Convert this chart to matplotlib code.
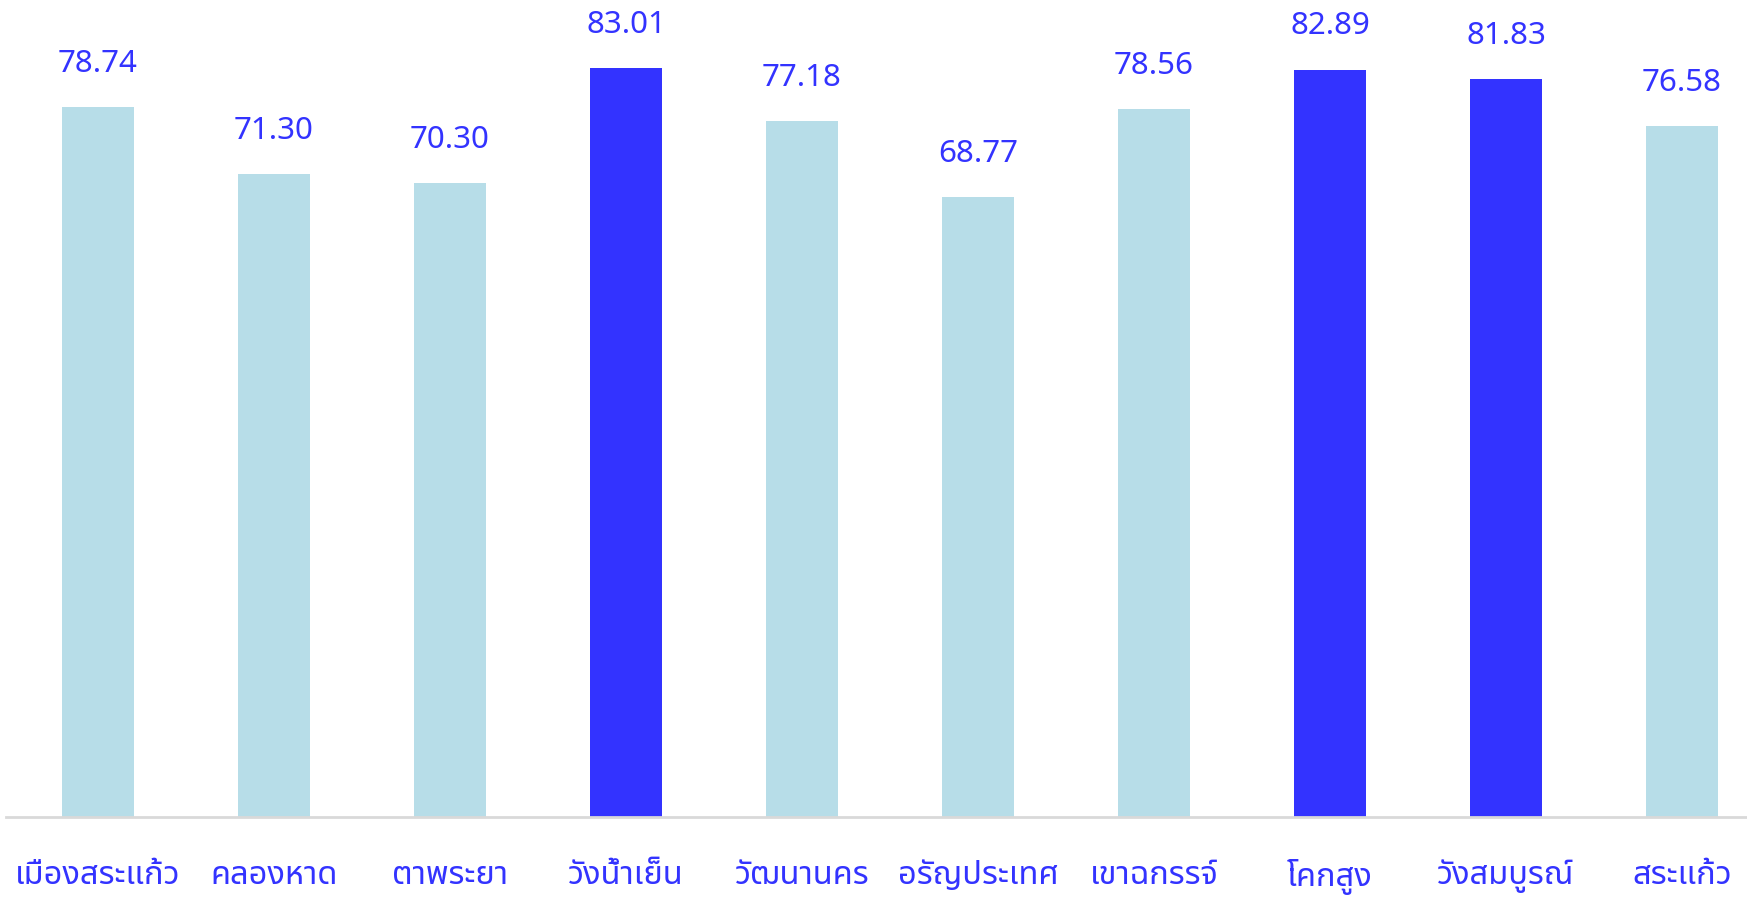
import matplotlib
matplotlib.use("Agg")
import matplotlib.pyplot as plt
import numpy as np

# ข้อมูลรายอำเภอ
districts = ["เมืองสระแก้ว", "คลองหาด", "ตาพระยา", "วังน้ำเย็น", "วัฒนานคร",
             "อรัญประเทศ", "เขาฉกรรจ์", "โคกสูง", "วังสมบูรณ์", "สระแก้ว"]
scores = [78.74, 71.30, 70.30, 83.01, 77.18, 68.77, 78.56, 82.89, 81.83, 76.58]
highlight = [False, False, False, True, False, False, False, True, True, False]

LIGHT = "#B7DDE8"
DARK = "#3333FF"
TEXT = "#3333FF"

W, H = 1747, 898
fig = plt.figure(figsize=(W / 100, H / 100), dpi=100)
ax = fig.add_axes([6 / W, (H - 817) / H, 1 - 6 / W, 817 / H])

x = np.arange(len(districts))
colors = [DARK if h else LIGHT for h in highlight]
ax.bar(x, scores, width=0.405, color=colors, zorder=2)

# ป้ายค่าเหนือแท่ง
for xi, v in zip(x, scores):
    ax.annotate(f"{v:.2f}", (xi, v), xytext=(0, 31), textcoords="offset points",
                ha="center", va="center", fontsize=22.5, color=TEXT,
                family=["Noto Sans", "DejaVu Sans"])

ax.set_xlim((6 - 98) / 176, (W - 98) / 176)
ax.set_ylim(0, 90.6)
ax.set_xticks(x)
ax.set_xticklabels(districts, family=["Noto Sans Thai", "DejaVu Sans"],
                   fontsize=23.5, color=TEXT)
ax.tick_params(axis="x", length=0, pad=30)
ax.set_yticks([])
for s in ["top", "right", "left"]:
    ax.spines[s].set_visible(False)
ax.spines["bottom"].set_color("#D9D9D9")
ax.spines["bottom"].set_linewidth(2)

fig.savefig("out.png", dpi=100)
